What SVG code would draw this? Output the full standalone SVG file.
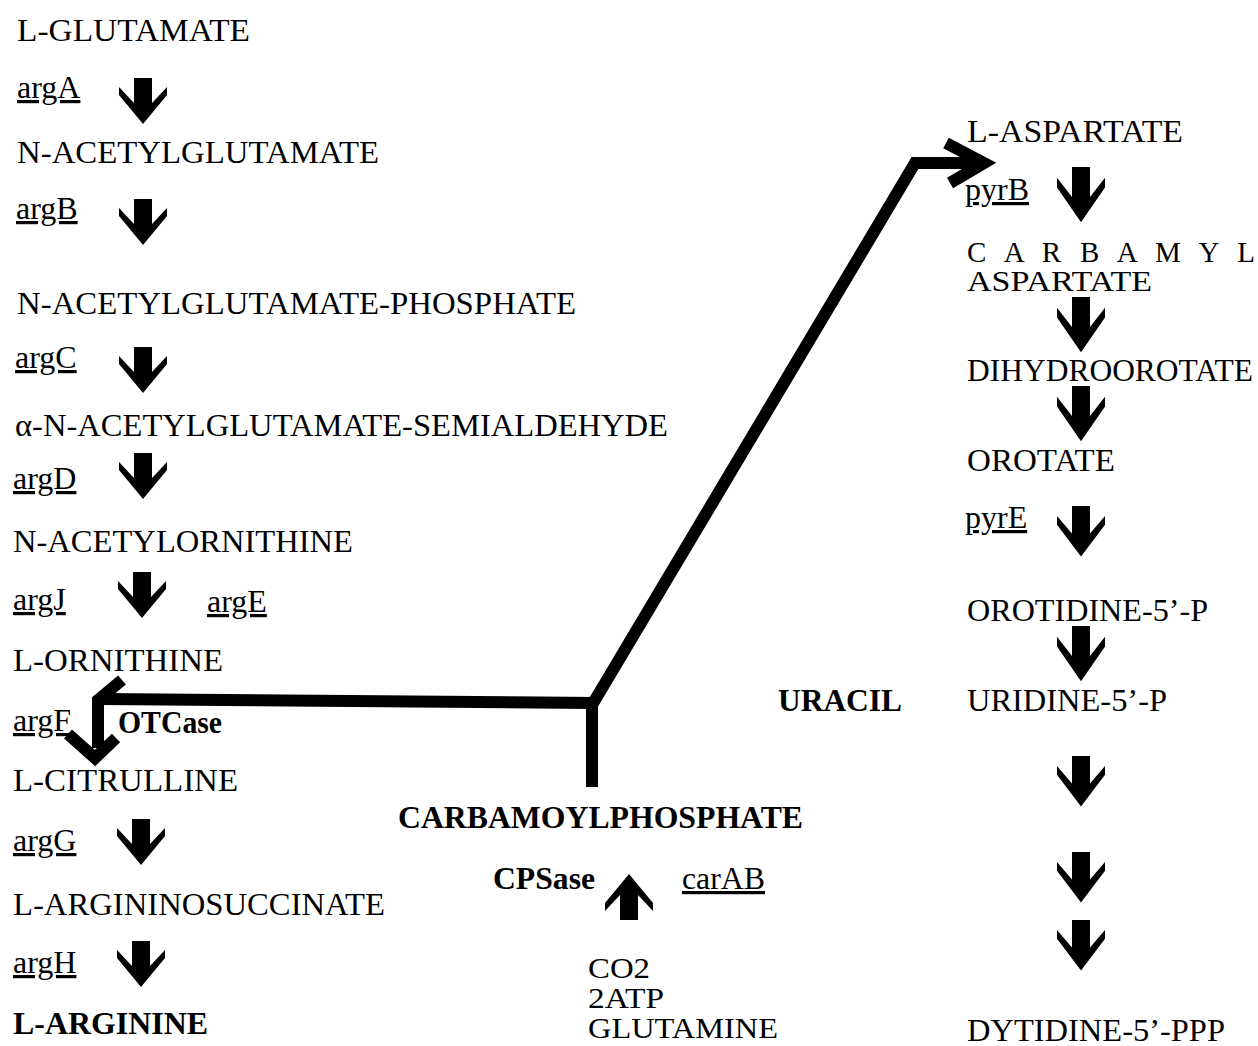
<svg xmlns="http://www.w3.org/2000/svg" width="1258" height="1046" viewBox="0 0 1258 1046">
<style>
text{font-family:"Liberation Serif","Times New Roman",serif;font-size:32px;fill:#000}
.g{text-decoration:underline}
.b{font-weight:bold}
.s{font-size:29px}
.conn{fill:none;stroke:#000;stroke-width:12;stroke-linejoin:miter}
</style>
<defs>
<path id="dn" d="M-9,0 H9 V25 L24,9 L24,17 L0,46 L-24,17 L-24,9 L-9,25 Z" fill="#000"/>
</defs>
<rect width="1258" height="1046" fill="#fff"/>
<g id="connectors">
<polyline class="conn" points="592,787 592,703 100,699"/>
<polyline class="conn" points="592,705 915,163 982,163"/>
<polyline class="conn" points="946,143 984,163 950,183"/>
<polyline class="conn" points="122,680 98,700 98,748"/>
<polyline class="conn" points="68,734 95,758 116,738"/>
</g>
<g id="left-col">
<g id="n1"><text x="17" y="41" textLength="233" lengthAdjust="spacingAndGlyphs">L-GLUTAMATE</text></g>
<g id="e1"><text class="g" x="17" y="98">argA</text><use href="#dn" transform="translate(143,78)"/></g>
<g id="n2"><text x="17" y="163" textLength="362" lengthAdjust="spacingAndGlyphs">N-ACETYLGLUTAMATE</text></g>
<g id="e2"><text class="g" x="16" y="219">argB</text><use href="#dn" transform="translate(143,199)"/></g>
<g id="n3"><text x="17" y="314" textLength="559" lengthAdjust="spacingAndGlyphs">N-ACETYLGLUTAMATE-PHOSPHATE</text></g>
<g id="e3"><text class="g" x="15" y="368">argC</text><use href="#dn" transform="translate(143,347)"/></g>
<g id="n4"><text x="15" y="436" textLength="653" lengthAdjust="spacingAndGlyphs">α-N-ACETYLGLUTAMATE-SEMIALDEHYDE</text></g>
<g id="e4"><text class="g" x="13" y="489">argD</text><use href="#dn" transform="translate(143,453)"/></g>
<g id="n5"><text x="13" y="552" textLength="340" lengthAdjust="spacingAndGlyphs">N-ACETYLORNITHINE</text></g>
<g id="e5"><text class="g" x="13" y="610">argJ</text><use href="#dn" transform="translate(142,572)"/><text class="g" x="207" y="612">argE</text></g>
<g id="n6"><text x="13" y="671" textLength="210" lengthAdjust="spacingAndGlyphs">L-ORNITHINE</text></g>
<g id="e6"><text class="g" x="13" y="731">argF</text><text class="b" x="118" y="733" textLength="104" lengthAdjust="spacingAndGlyphs">OTCase</text></g>
<g id="n7"><text x="13" y="791" textLength="225" lengthAdjust="spacingAndGlyphs">L-CITRULLINE</text></g>
<g id="e7"><text class="g" x="13" y="851">argG</text><use href="#dn" transform="translate(141,819)"/></g>
<g id="n8"><text x="13" y="915" textLength="372" lengthAdjust="spacingAndGlyphs">L-ARGININOSUCCINATE</text></g>
<g id="e8"><text class="g" x="13" y="973">argH</text><use href="#dn" transform="translate(141,941)"/></g>
<g id="n9"><text class="b" x="13" y="1034" textLength="195" lengthAdjust="spacingAndGlyphs">L-ARGININE</text></g>
</g>
<g id="middle">
<g id="cp"><text class="b" x="398" y="828" textLength="405" lengthAdjust="spacingAndGlyphs">CARBAMOYLPHOSPHATE</text></g>
<g id="cps"><text class="b" x="493" y="889" textLength="102" lengthAdjust="spacingAndGlyphs">CPSase</text><use href="#dn" transform="translate(629,920) rotate(180)"/><text class="g" x="682" y="889" textLength="83" lengthAdjust="spacingAndGlyphs">carAB</text></g>
<g id="subs"><text class="s" x="588" y="978" textLength="62" lengthAdjust="spacingAndGlyphs">CO2</text><text class="s" x="588" y="1008" textLength="76" lengthAdjust="spacingAndGlyphs">2ATP</text><text class="s" x="588" y="1038" textLength="190" lengthAdjust="spacingAndGlyphs">GLUTAMINE</text></g>
<g id="uracil"><text class="b" x="778" y="711" textLength="124" lengthAdjust="spacingAndGlyphs">URACIL</text></g>
</g>
<g id="right-col">
<g id="r1"><text x="967" y="142" textLength="216" lengthAdjust="spacingAndGlyphs">L-ASPARTATE</text></g>
<g id="re1"><text class="g" x="965" y="200">pyrB</text><use href="#dn" transform="translate(1081,167) scale(1,1.2)"/></g>
<g id="r2"><text class="s" x="967" y="262" textLength="288" lengthAdjust="spacing">C A R B A M Y L</text><text class="s" x="967" y="291" textLength="185" lengthAdjust="spacingAndGlyphs">ASPARTATE</text></g>
<g id="re2"><use href="#dn" transform="translate(1081,297) scale(1,1.2)"/></g>
<g id="r3"><text x="967" y="381" textLength="286" lengthAdjust="spacingAndGlyphs">DIHYDROOROTATE</text></g>
<g id="re3"><use href="#dn" transform="translate(1081,386) scale(1,1.2)"/></g>
<g id="r4"><text x="967" y="471" textLength="148" lengthAdjust="spacingAndGlyphs">OROTATE</text></g>
<g id="re4"><text class="g" x="965" y="528">pyrE</text><use href="#dn" transform="translate(1081,506) scale(1,1.1)"/></g>
<g id="r5"><text x="967" y="621" textLength="241" lengthAdjust="spacingAndGlyphs">OROTIDINE-5’-P</text></g>
<g id="re5"><use href="#dn" transform="translate(1081,626) scale(1,1.2)"/></g>
<g id="r6"><text x="967" y="711" textLength="200" lengthAdjust="spacingAndGlyphs">URIDINE-5’-P</text></g>
<g id="re6"><use href="#dn" transform="translate(1081,756) scale(1,1.1)"/></g>
<g id="re7"><use href="#dn" transform="translate(1081,852) scale(1,1.1)"/></g>
<g id="re8"><use href="#dn" transform="translate(1081,920) scale(1,1.1)"/></g>
<g id="r7"><text x="967" y="1041" textLength="258" lengthAdjust="spacingAndGlyphs">DYTIDINE-5’-PPP</text></g>
</g>
</svg>
